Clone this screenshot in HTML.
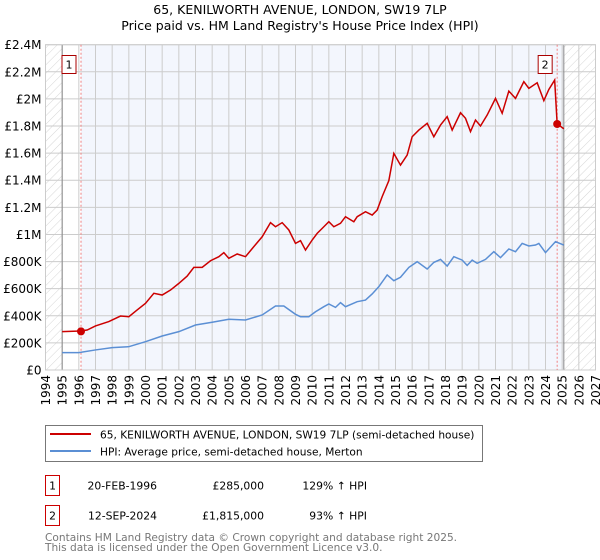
<!DOCTYPE html>
<html><head><meta charset="utf-8"><style>
body{margin:0;background:#fff;}
svg{display:block;font-family:"DejaVu Sans","Liberation Sans",sans-serif;}
</style></head><body>
<svg id="chart" width="600" height="560" viewBox="0 0 600 560">
<defs>
<pattern id="hatch" width="6" height="6" patternUnits="userSpaceOnUse" patternTransform="rotate(45)">
<line x1="0" y1="0" x2="0" y2="6" stroke="#ccc" stroke-width="0.8"/>
</pattern>
</defs>
<text x="300" y="14" text-anchor="middle" font-size="12.5" fill="#000">65, KENILWORTH AVENUE, LONDON, SW19 7LP</text>
<text x="300" y="30" text-anchor="middle" font-size="12.5" fill="#000">Price paid vs. HM Land Registry's House Price Index (HPI)</text>
<g id="plot"></g>
<g>
<rect x="45.5" y="425.5" width="437" height="36" fill="#fff" stroke="#777"/>
<line x1="50" y1="434" x2="91" y2="434" stroke="#cc0000" stroke-width="2"/>
<text x="100" y="438.5" font-size="10.6">65, KENILWORTH AVENUE, LONDON, SW19 7LP (semi-detached house)</text>
<line x1="50" y1="451" x2="91" y2="451" stroke="#5b8fd4" stroke-width="2"/>
<text x="100" y="455.5" font-size="10.6">HPI: Average price, semi-detached house, Merton</text>
</g>
<g font-size="10.8">
<rect x="45.5" y="475.5" width="14" height="20" fill="#fff" stroke="#cc0000"/>
<text x="52.5" y="489.5" text-anchor="middle">1</text>
<text x="157" y="489.5" text-anchor="end">20-FEB-1996</text>
<text x="264" y="489.5" text-anchor="end">£285,000</text>
<text x="367" y="489.5" text-anchor="end">129% ↑ HPI</text>
<rect x="45.5" y="505.5" width="14" height="20" fill="#fff" stroke="#cc0000"/>
<text x="52.5" y="519.5" text-anchor="middle">2</text>
<text x="157" y="519.5" text-anchor="end">12-SEP-2024</text>
<text x="264" y="519.5" text-anchor="end">£1,815,000</text>
<text x="367" y="519.5" text-anchor="end">93% ↑ HPI</text>
</g>
<text x="45" y="541" font-size="10.6" fill="#777">Contains HM Land Registry data © Crown copyright and database right 2025.</text>
<text x="45" y="551" font-size="10.6" fill="#777">This data is licensed under the Open Government Licence v3.0.</text>
</svg>
<script>
const yTicks=[0,200000,400000,600000,800000,1000000,1200000,1400000,1600000,1800000,2000000,2200000,2400000];
const yTickLabels=["£0","£200K","£400K","£600K","£800K","£1M","£1.2M","£1.4M","£1.6M","£1.8M","£2M","£2.2M","£2.4M"];
const years=[1994,1995,1996,1997,1998,1999,2000,2001,2002,2003,2004,2005,2006,2007,2008,2009,2010,2011,2012,2013,2014,2015,2016,2017,2018,2019,2020,2021,2022,2023,2024,2025,2026,2027];
const hpiDates=[1995,1996,1997,1998,1999,2000,2001,2002,2003,2004,2005,2006,2007,2007.8,2008.3,2009,2009.3,2009.8,2010.2,2010.7,2011,2011.4,2011.7,2012,2012.7,2013.2,2013.6,2014,2014.5,2014.9,2015.3,2015.8,2016.3,2016.9,2017.3,2017.7,2018.1,2018.5,2019,2019.3,2019.6,2019.9,2020.4,2020.9,2021.3,2021.8,2022.2,2022.6,2023,2023.4,2023.6,2024,2024.6,2025.1];
const hpiValues=[128,128,148,165,172,209,251,283,332,352,374,369,406,472,472,411,393,393,430,467,487,462,497,467,504,516,561,615,701,659,684,757,799,745,794,816,767,836,811,772,811,787,816,873,829,893,873,934,915,922,934,866,947,922];
const priceDates=[1995,1996.1,1996.5,1997,1997.8,1998.5,1999,1999.5,2000,2000.5,2001,2001.5,2002,2002.5,2002.9,2003.4,2003.9,2004.4,2004.7,2005,2005.5,2006,2006.5,2007,2007.5,2007.8,2008.2,2008.6,2009,2009.3,2009.6,2010,2010.3,2010.7,2011,2011.3,2011.7,2012,2012.5,2012.7,2013.2,2013.6,2013.9,2014.2,2014.6,2014.9,2015.3,2015.7,2016,2016.4,2016.9,2017.3,2017.7,2018.1,2018.4,2018.9,2019.2,2019.5,2019.8,2020.1,2020.5,2021,2021.4,2021.8,2022.2,2022.7,2023,2023.5,2023.9,2024.2,2024.55,2024.7,2025.1];
const priceValues=[283,288,295,325,357,398,393,443,492,566,553,590,639,693,757,757,806,836,866,824,856,836,910,983,1087,1057,1087,1033,934,954,885,959,1008,1057,1094,1057,1082,1131,1094,1131,1168,1143,1180,1279,1397,1598,1512,1586,1721,1770,1820,1721,1807,1869,1770,1898,1857,1759,1844,1800,1881,2004,1894,2058,2004,2127,2078,2119,1987,2070,2139,1815,1780];
const saleDates=[1996.13,2024.7];
const salePrices=[285000,1815000];
const saleLabels=["1","2"];

const NS="http://www.w3.org/2000/svg";
const X0=45.5,X1=595.5,Y0=370,Y1=44.7;
const xs=d=>X0+(d-1994)*(X1-X0)/33;
const ys=v=>Y0-v*(Y0-Y1)/2400000;
const plot=document.getElementById('plot');
function mk(tag,attrs,parent){const e=document.createElementNS(NS,tag);for(const k in attrs)e.setAttribute(k,attrs[k]);(parent||plot).appendChild(e);return e;}

const bg=mk('rect',{x:X0,y:Y1,width:X1-X0,height:Y0-Y1,fill:'#fff'});


const shade=mk('rect',{x:xs(saleDates[0]),y:Y1,width:xs(2025.1)-xs(saleDates[0]),height:Y0-Y1,fill:'#f3f6fd'});


const h1=mk('rect',{x:X0,y:Y1,width:xs(1995)-X0,height:Y0-Y1,fill:'url(#hatch)'});


const h2=mk('rect',{x:xs(2025.1),y:Y1,width:X1-xs(2025.1),height:Y0-Y1,fill:'url(#hatch)'});



yTicks.forEach((t,i)=>{
  const g=mk('line',{x1:X0,x2:X1,y1:ys(t),y2:ys(t),stroke:'#ccc','stroke-width':1});
  
  
  const l=mk('text',{x:X0-4,y:ys(t)+4.5,'text-anchor':'end','font-size':12});
  
  
  l.textContent=yTickLabels[i];
});
years.forEach(yr=>{
  const g=mk('line',{x1:xs(yr),x2:xs(yr),y1:Y1,y2:Y0,stroke:'#ccc','stroke-width':1});
  
  
  const l=mk('text',{x:0,y:0,'font-size':12,'text-anchor':'end',transform:`translate(${xs(yr)+4.5},${Y0+5}) rotate(-90)`});
  
  
  l.textContent=yr;
});
[1995,2025.1].forEach(d=>{
  const b=mk('line',{x1:xs(d),x2:xs(d),y1:Y1,y2:Y0,stroke:'#888','stroke-width':1});
  
  
});
const frame=mk('rect',{x:X0,y:Y1,width:X1-X0,height:Y0-Y1,fill:'none',stroke:'#ccc'});



saleDates.forEach((d,i)=>{
  const v=mk('line',{x1:xs(d),x2:xs(d),y1:Y1,y2:Y0,stroke:'#f08080','stroke-width':1,'stroke-dasharray':'2,2'});
  
  
});

const hp=mk('polyline',{points:hpiDates.map((d,i)=>xs(d)+','+ys(hpiValues[i]*1000)).join(' '),fill:'none',stroke:'#5b8fd4','stroke-width':1.5});


const pp=mk('polyline',{points:priceDates.map((d,i)=>xs(d)+','+ys(priceValues[i]*1000)).join(' '),fill:'none',stroke:'#cc0000','stroke-width':1.5});



saleDates.forEach((d,i)=>{
  const c=mk('circle',{cx:xs(d),cy:ys(salePrices[i]),r:4,fill:'#cc0000'});
  
  
  const bx=xs(d)-12;
  const r=mk('rect',{x:bx-7,y:55.5,width:14,height:18,fill:'#fff',stroke:'#aa0000'});
  
  
  const t=mk('text',{x:bx,y:68.5,'text-anchor':'middle','font-size':11});
  
  
  t.textContent=saleLabels[i];
});
</script>
</body></html>
